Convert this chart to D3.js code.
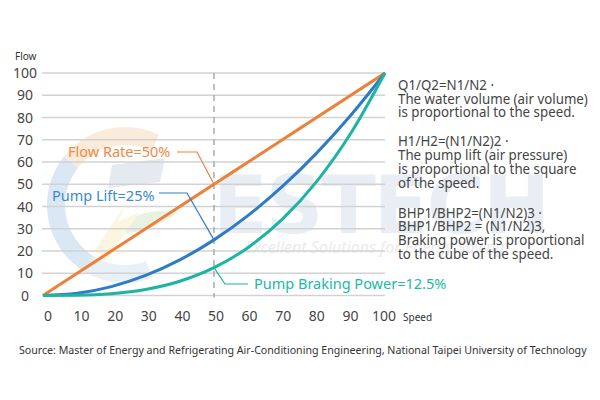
<!DOCTYPE html>
<html><head><meta charset="utf-8">
<script src="https://cdn.jsdelivr.net/npm/d3@7"></script>
<style>body{margin:0;background:#fff}svg{display:block}</style>
</head><body>
<svg id="c" width="600" height="400"></svg>
<script>
const speeds = [0,10,20,30,40,50,60,70,80,90,100];
const flowRate = [0,10,20,30,40,50,60,70,80,90,100];
const pumpLift = [0,1,4,9,16,25,36,49,64,81,100];
const brakingPower = [0,0.1,0.8,2.7,6.4,12.5,21.6,34.3,51.2,72.9,100];
const yTicks = [0,10,20,30,40,50,60,70,80,90,100];
const xTicks = [0,10,20,30,40,50,60,70,80,90,100];
const markSpeed = 50;
const labels = ["Flow Rate=50%","Pump Lift=25%","Pump Braking Power=12.5%"];
const notes = [
  ["Q1/Q2=N1/N2 ·","The water volume (air volume)","is proportional to the speed."],
  ["H1/H2=(N1/N2)2 ·","The pump lift (air pressure)","is proportional to the square","of the speed."],
  ["BHP1/BHP2=(N1/N2)3 ·","BHP1/BHP2 = (N1/N2)3,","Braking power is proportional","to the cube of the speed."]
];
const source = "Source: Master of Energy and Refrigerating Air-Conditioning Engineering, National Taipei University of Technology";

const svg = d3.select("#c");
const F = "'Noto Sans', 'Open Sans', sans-serif";
const x = d3.scaleLinear().domain([0,100]).range([43,385]);
const xl = d3.scaleLinear().domain([0,100]).range([48,384]);
const y = d3.scaleLinear().domain([0,100]).range([295.5,73]);

// watermark
const wm = svg.append("g").attr("opacity",0.2);
const arc = d3.arc();
const cx=125, cy=205;
wm.append("path").attr("transform",`translate(${cx},${cy})`)
  .attr("d",arc({innerRadius:60,outerRadius:78,startAngle:-2.6,endAngle:-0.9})).attr("fill","#4a8fd0");
wm.append("path").attr("transform",`translate(${cx},${cy})`)
  .attr("d",arc({innerRadius:60,outerRadius:78,startAngle:-0.9,endAngle:0.45})).attr("fill","#f0a050");
wm.append("path").attr("transform",`translate(${cx},${cy})`)
  .attr("d",arc({innerRadius:60,outerRadius:78,startAngle:-3.5,endAngle:-2.6})).attr("fill","#8fb8e0");
wm.append("path").attr("d","M112,165 L165,158 L160,182 L108,188 Z").attr("fill","#7e9ab8");
wm.append("path").attr("d","M105,235 Q140,205 178,212 Q150,235 105,235 Z").attr("fill","#8cc36a");
wm.append("path").attr("d","M95,250 L125,205 L118,222 L140,212 L105,262 Z").attr("fill","#f5d36a");
svg.append("text").attr("x",213).attr("y",233).text("ESTECH")
  .attr("font-family","'DejaVu Sans', sans-serif").attr("font-weight","bold")
  .attr("font-size",80).attr("fill","#e8eef4").attr("letter-spacing",-2);
svg.append("text").attr("x",245).attr("y",253).text("Excellent Solutions for Energy Saving")
  .attr("font-family",F).attr("font-style","italic").attr("font-size",16).attr("fill","#ebebeb");

// grid
svg.append("g").selectAll("line").data(yTicks).join("line")
  .attr("x1",42).attr("x2",385).attr("y1",d=>y(d)).attr("y2",d=>y(d))
  .attr("stroke","#d2d2d2").attr("stroke-width",1.6);

// y labels
svg.append("g").selectAll("text").data(yTicks).join("text")
  .attr("x",25).attr("y",d=>y(d)+5).attr("text-anchor","middle").text(d=>d)
  .attr("font-family",F).attr("font-size",14).attr("fill","#444");
svg.append("text").attr("x",15).attr("y",60).text("Flow").attr("font-family",F).attr("font-size",10).attr("fill","#333");

// x labels
svg.append("g").selectAll("text").data(xTicks).join("text")
  .attr("x",d=>xl(d)).attr("y",321).attr("text-anchor","middle").text(d=>d)
  .attr("font-family",F).attr("font-size",14).attr("fill","#444");
svg.append("text").attr("x",403).attr("y",321).text("Speed").attr("font-family",F).attr("font-size",10).attr("fill","#333");

// dashed marker
svg.append("line").attr("x1",x(markSpeed)).attr("x2",x(markSpeed)).attr("y1",y(100)).attr("y2",y(0)+2)
  .attr("stroke","#aaa").attr("stroke-width",1.5).attr("stroke-dasharray","6,5");

const series = [
  {vals:flowRate, color:"#ec823a", lab:"#ee8a45"},
  {vals:pumpLift, color:"#2f7cc6", lab:"#3a8ad0"},
  {vals:brakingPower, color:"#1db4a2", lab:"#22b8a8"}
];
const line = d3.line().x((d,i)=>x(speeds[i])).y(d=>y(d)).curve(d3.curveMonotoneX);
series.forEach(s=>{
  svg.append("path").attr("d",line(s.vals)).attr("fill","none")
    .attr("stroke",s.color).attr("stroke-width",3);
});

// annotations
const mi = speeds.indexOf(markSpeed);
const ann = [
  {s:series[0], pts:[[177,152],[197,152],[x(markSpeed),y(flowRate[mi])]], tx:68, ty:157},
  {s:series[1], pts:[[159,193],[187,193],[x(markSpeed),y(pumpLift[mi])]], tx:52, ty:201},
  {s:series[2], pts:[[x(markSpeed),y(brakingPower[mi])],[225,284],[248,284]], tx:254, ty:289}
];
ann.forEach((a,i)=>{
  svg.append("path").attr("d",d3.line()(a.pts)).attr("fill","none")
    .attr("stroke",a.s.color).attr("stroke-width",1.2);
  svg.append("text").attr("x",a.tx).attr("y",a.ty).text(labels[i])
    .attr("font-family",F).attr("font-size",14.5).attr("fill",a.s.lab);
});

// notes
const baselines = [[90,104,117],[146,160,174,188],[218,231,245,259]];
const ng = svg.append("g");
const ngi = ng.append("g");
notes.forEach((blk,bi)=>{
  blk.forEach((t,li)=>{
    ngi.append("text").attr("x",0).attr("y",baselines[bi][li]).text(t)
      .attr("font-family",F).attr("font-size",14.5).attr("fill","#444");
  });
});
let maxW = 0;
ngi.selectAll("text").each(function(){maxW=Math.max(maxW,this.getComputedTextLength());});
ng.attr("transform",`translate(398,0) scale(${190/maxW},1)`);

// source
const sg = svg.append("g");
const st = sg.append("text").attr("x",0).attr("y",354).text(source)
  .attr("font-family",F).attr("font-size",11.5).attr("fill","#333");
const sw = st.node().getComputedTextLength();
sg.attr("transform",`translate(19,0) scale(${568/sw},1)`);
</script>
</body></html>
